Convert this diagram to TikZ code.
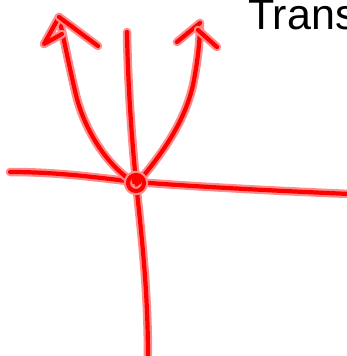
\documentclass[tikz,border=0pt]{standalone}
\usepackage{fontspec}
\setmainfont{Liberation Sans}
\begin{document}
\begin{tikzpicture}[x=1pt,y=-1pt,
  ink/.style={draw={rgb,255:red,255;green,140;blue,140}, line width=8.5pt, line cap=round, line join=round,
    postaction={draw=red, line width=4.2pt, line cap=round, line join=round}}]
\useasboundingbox (0,0) rectangle (347,356);
\clip (0,0) rectangle (347,356);
% text
\node[anchor=base west, inner sep=0pt, font=\fontsize{43}{43}\selectfont] (title) at (248,29) {Trans};
% horizontal axis
\draw[ink] (10,172) .. controls (60,172) and (100,178) .. (136,182) .. controls (200,187) and (280,191) .. (350,194);
% vertical axis
\draw[ink] (127,32) .. controls (128,90) and (132,140) .. (136,182) .. controls (142,240) and (148,290) .. (148,360);
% left branch
\draw[ink] (133,182) .. controls (100,160) and (82,120) .. (76,95) .. controls (70,70) and (64,40) .. (59,17);
\draw[ink] (59,17) -- (44,44) -- (62,34);
\draw[ink] (59,17) -- (98,46);
% right branch
\draw[ink] (140,180) .. controls (165,150) and (185,120) .. (193,85) .. controls (198,60) and (200,40) .. (200,23);
\draw[ink] (200,23) -- (177,42);
\draw[ink] (198,30) -- (217,47);
% center circle
\draw[ink] (136,183) circle[radius=8];
\fill[red] (137,180) circle[radius=5.5];
\end{tikzpicture}
\end{document}
